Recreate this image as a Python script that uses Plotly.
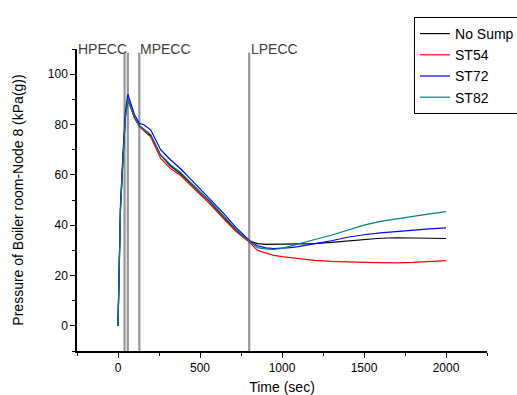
import plotly.graph_objects as go

time_s = [0, 5, 15, 30, 45, 60, 75, 100, 130, 160, 200, 260, 320, 380, 440, 500, 560, 640, 720,
          800, 850, 900, 950, 1000, 1050, 1100, 1150, 1200, 1300, 1400, 1500, 1600, 1700, 1800, 1900, 2000]

no_sump = [0, 20, 46, 66, 83, 90, 87.5, 83, 79.5, 78, 75.5, 67.8, 63.5, 60.5, 56.8, 53, 49.3, 43.5, 38,
           33.7, 32.7, 32.4, 32.4, 32.4, 32.4, 32.5, 32.5, 32.7, 33.2, 33.8, 34.5, 34.8, 35, 34.8, 34.7, 34.7]
st54 = [0, 20, 46, 66, 83, 90, 87.3, 82.6, 79.2, 77.5, 75, 66.5, 62.5, 59.8, 56, 52.3, 48.5, 42.8, 37.5,
        33.3, 30, 29, 28, 27.5, 27.1, 26.7, 26.3, 26, 25.6, 25.3, 25.2, 25.1, 25, 25.2, 25.5, 25.9]
st72 = [0, 20, 48, 68, 85, 92, 89, 84, 80.5, 79.8, 77.8, 70, 66, 62.5, 58.5, 54.5, 50.5, 45, 39,
        34, 31.8, 31, 30.7, 30.8, 31.1, 31.5, 32, 32.6, 33.8, 35.2, 36.2, 36.9, 37.5, 38, 38.5, 38.9]
st82 = [0, 20, 46, 66, 83, 90, 87.5, 83, 79.5, 78, 76, 68, 64, 61, 57, 53.3, 49.6, 43.8, 38.3,
        33.7, 31.1, 30.6, 30.4, 30.8, 31.6, 32.5, 33.3, 34.3, 36, 38, 40, 41.5, 42.6, 43.6, 44.5, 45.4]

series_names = ["No Sump", "ST54", "ST72", "ST82"]
series_values = [no_sump, st54, st72, st82]
series_colors = ["#000000", "#ff0000", "#0000ff", "#008080"]

event_times = [40, 60, 130, 800]
phase_labels = ["HPECC", "MPECC", "LPECC"]
phase_label_x = [-245, 132, 808]

x_ticks = [0, 500, 1000, 1500, 2000]
y_ticks = [0, 20, 40, 60, 80, 100]

fig = go.Figure()
for name, vals, col in zip(series_names, series_values, series_colors):
    fig.add_trace(go.Scatter(x=time_s, y=vals, mode="lines", name=name,
                             line=dict(color=col, width=1.2)))

for t in event_times:
    fig.add_shape(type="line", x0=t, x1=t, y0=-10, y1=108.5, xref="x", yref="y",
                  line=dict(color="#969696", width=2.2), layer="below")

for lab, lx in zip(phase_labels, phase_label_x):
    fig.add_annotation(x=lx, y=1.0, xref="x", yref="paper", text=lab, showarrow=False,
                       xanchor="left", yanchor="middle", xshift=-2,
                       font=dict(family="Liberation Sans, Arial", size=14, color="#404040"))

axis_common = dict(showline=True, linecolor="black", linewidth=1.5, ticks="outside",
                   ticklen=5, tickwidth=1.2, tickcolor="black", showgrid=False, zeroline=False,
                   mirror=False, automargin=False,
                   tickfont=dict(family="Liberation Sans, Arial", size=12, color="black"),
                   title_font=dict(family="Liberation Sans, Arial", size=14, color="black"))

fig.update_xaxes(range=[-250, 2250], tickvals=x_ticks,
                 minor=dict(ticks="outside", ticklen=3, tickcolor="black", tickwidth=1.2, dtick=250,
                            tick0=-250, showgrid=False),
                 title_text="Time (sec)", title_standoff=15, **axis_common)
fig.update_yaxes(range=[-10, 110], tickvals=y_ticks,
                 minor=dict(ticks="outside", ticklen=3, tickcolor="black", tickwidth=1.2, dtick=10,
                            tick0=-10, showgrid=False),
                 title_text="Pressure of Boiler room-Node 8 (kPa(g))", title_standoff=21, **axis_common)

fig.update_layout(
    width=517, height=395,
    margin=dict(l=77, r=30, t=49, b=44, autoexpand=False),
    plot_bgcolor="white", paper_bgcolor="white",
    showlegend=True,
    legend=dict(x=0.822, y=1.106, xanchor="left", yanchor="top",
                bordercolor="black", borderwidth=1, bgcolor="white",
                font=dict(family="Liberation Sans, Arial", size=14, color="black"),
                tracegroupgap=0, itemwidth=30),
)

post = ("document.body.style.margin='0';document.body.style.overflow='hidden';"
        "var gd=document.getElementById('{plot_id}');"
        "Plotly.relayout(gd,{width:517,height:395});")
fig.write_html("out.html", post_script=post,
               config={"responsive": False, "displayModeBar": False})
